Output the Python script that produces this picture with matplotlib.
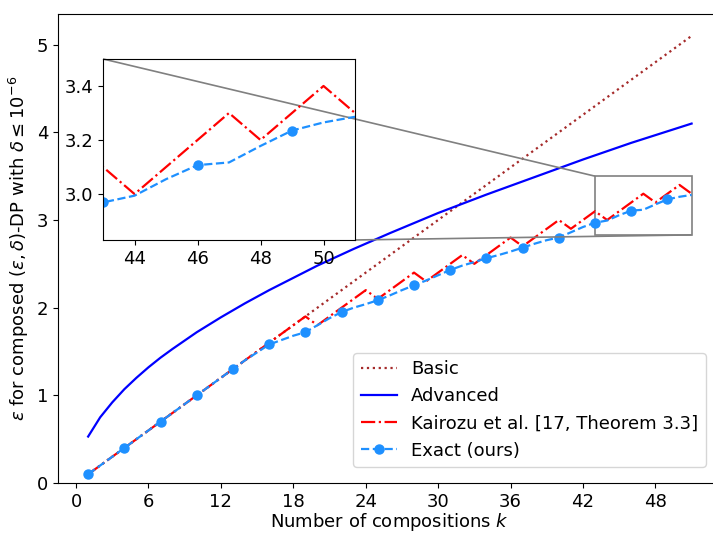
import matplotlib.pyplot as plt
from mpl_toolkits.axes_grid1.inset_locator import mark_inset

# values
basic_k = [1, 51]
basic_eps = [0.1, 5.1]

adv_k = [1, 2, 3, 4, 5, 6, 7, 8, 10, 12, 14, 16, 18, 20, 23, 26, 30, 34, 38, 42, 46, 51]
adv_eps = [0.53, 0.75, 0.92, 1.07, 1.20, 1.32, 1.43, 1.53, 1.72, 1.89, 2.05, 2.20,
           2.34, 2.48, 2.67, 2.85, 3.08, 3.29, 3.49, 3.69, 3.88, 4.10]

kair_k = [1, 19, 20, 24, 25, 28, 29, 32, 33, 36, 37, 40, 41, 43, 44, 47, 48, 50, 51]
kair_eps = [0.1, 1.9, 1.8, 2.2, 2.1, 2.4, 2.3, 2.6, 2.5, 2.8, 2.7, 3.0, 2.9, 3.1, 3.0,
            3.3, 3.2, 3.4, 3.3]

exact_k = list(range(1, 52))
exact_eps = [0.1, 0.2, 0.3, 0.4, 0.5, 0.6, 0.7, 0.8, 0.9, 1.0,
             1.1, 1.2, 1.3, 1.40, 1.49, 1.58, 1.63, 1.68, 1.72, 1.80,
             1.88, 1.95, 2.00, 2.04, 2.085, 2.14, 2.20, 2.255, 2.31, 2.37,
             2.43, 2.48, 2.52, 2.564, 2.60, 2.64, 2.685, 2.73, 2.77, 2.80,
             2.86, 2.92, 2.969, 2.994, 3.055, 3.107, 3.117, 3.178, 3.235, 3.265,
             3.286]

xticks = [0, 6, 12, 18, 24, 30, 36, 42, 48]


def draw(ax):
    ax.plot(basic_k, basic_eps, ':', color='brown', lw=1.6, label='Basic')
    ax.plot(adv_k, adv_eps, '-', color='blue', lw=1.6, label='Advanced')
    ax.plot(kair_k, kair_eps, '-.', color='red', lw=1.6,
            label='Kairozu et al. [17, Theorem 3.3]')
    ax.plot(exact_k, exact_eps, '--', color='dodgerblue', lw=1.6, marker='o',
            markersize=6.5, markevery=3, label='Exact (ours)')


plt.rcParams['font.size'] = 13
fig = plt.figure(figsize=(7.13, 5.34), dpi=100)
ax = fig.add_axes([0.0813, 0.0955, 0.931, 0.8783])
draw(ax)
ax.set_xlim(-1.5, 53.5)
ax.set_ylim(0, 5.35)
ax.set_xticks(xticks)
ax.set_yticks([0, 1, 2, 3, 4, 5])
ax.set_xlabel('Number of compositions $k$', labelpad=0)
ax.set_ylabel(r'$\varepsilon$ for composed $(\varepsilon,\delta)$-DP with $\delta \leq 10^{-6}$')
ax.legend(loc='lower right', fontsize=13, borderaxespad=0.9)

axins = fig.add_axes([0.1445, 0.5506, 0.3534, 0.339])
draw(axins)
axins.set_xlim(43, 51)
axins.set_ylim(2.83, 3.5)
axins.set_xticks([44, 46, 48, 50])
axins.set_yticks([3.0, 3.2, 3.4])
mark_inset(ax, axins, loc1=2, loc2=4, fc='none', ec='0.5', lw=1.2)

fig.savefig('out.png', dpi=100)
